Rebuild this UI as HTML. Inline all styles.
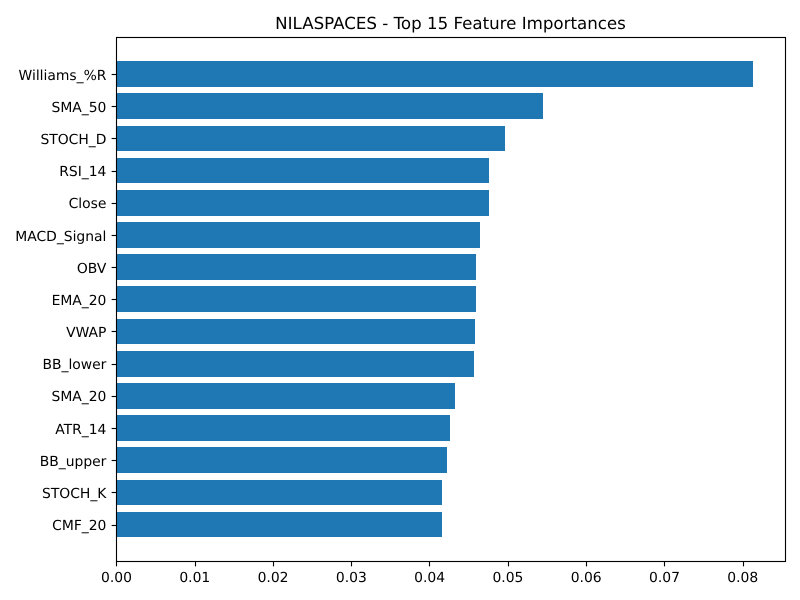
<!DOCTYPE html>
<html lang="en">
<head>
<meta charset="utf-8">
<title>NILASPACES - Top 15 Feature Importances</title>
<style>
html,body{margin:0;padding:0;background:#fff;width:800px;height:600px;overflow:hidden}
svg{display:block}
text{font-family:"DejaVu Sans",sans-serif;fill:#000;text-rendering:geometricPrecision}
</style>
</head>
<body>
<svg id="chart" xmlns="http://www.w3.org/2000/svg" width="800" height="600" viewBox="0 0 800 600">
<rect x="0" y="0" width="800" height="600" fill="#fff"/>
<text x="450.5" y="29" text-anchor="middle" font-size="16.67">NILASPACES - Top 15 Feature Importances</text>
<g id="bars"></g>
<g id="yaxis"></g>
<g id="xaxis"></g>
<rect x="116.5" y="37.5" width="669" height="524" fill="none" stroke="#000" stroke-width="1.11"/>
</svg>
<script>
const features = ["Williams_%R","SMA_50","STOCH_D","RSI_14","Close","MACD_Signal","OBV","EMA_20","VWAP","BB_lower","SMA_20","ATR_14","BB_upper","STOCH_K","CMF_20"];
const importances = [0.0813,0.0545,0.0496,0.0476,0.0476,0.0464,0.0459,0.0459,0.0458,0.0457,0.0432,0.0426,0.0422,0.0416,0.0416];
const xTicks = [0,0.01,0.02,0.03,0.04,0.05,0.06,0.07,0.08];
const xTickLabels = ["0.00","0.01","0.02","0.03","0.04","0.05","0.06","0.07","0.08"];
const xDomainMax = 0.08546;

const NS = 'http://www.w3.org/2000/svg';
const plotLeft = 116.5, plotRight = 785.5, plotTop = 37.315, plotBottom = 561.315;
const n = features.length;
const yUnit = (plotBottom - plotTop) / ((n - 1 + 0.8) * 1.1);
const firstCenter = plotTop + (0.4 + (n - 1 + 0.8) * 0.05) * yUnit;
function xScale(v) { return plotLeft + v / xDomainMax * (plotRight - plotLeft); }
function yScale(i) { return firstCenter + i * yUnit; }
function make(tag, attrs, parent) {
  const el = document.createElementNS(NS, tag);
  for (const k in attrs) el.setAttribute(k, attrs[k]);
  parent.appendChild(el);
  return el;
}
const barsG = document.getElementById('bars');
const yG = document.getElementById('yaxis');
const xG = document.getElementById('xaxis');

features.forEach(function (name, i) {
  const top = Math.round(yScale(i) - 0.4 * yUnit);
  const bottom = Math.round(yScale(i) + 0.4 * yUnit);
  const bar = make('rect', {x: plotLeft, y: top, width: Math.round(xScale(importances[i])) - plotLeft, height: bottom - top, fill: '#1f77b4', 'shape-rendering': 'crispEdges'}, barsG);
  
  

  const tickPixel = Math.floor(yScale(i) + 0.45);
  const tick = make('line', {x1: plotLeft - 4.86, x2: plotLeft, y1: tickPixel + 0.5, y2: tickPixel + 0.5, stroke: '#000', 'stroke-width': 1.11}, yG);
  
  

  const label = make('text', {x: 106.4, y: Math.round(yScale(i) + 5.6), 'text-anchor': 'end', 'font-size': 13.89}, yG);
  
  
  label.textContent = name;
});

xTicks.forEach(function (v, i) {
  const tx = Math.floor(xScale(v) + 0.3) + 0.5;
  const tick = make('line', {x1: tx, x2: tx, y1: 561.5, y2: 561.5 + 4.86, stroke: '#000', 'stroke-width': 1.11}, xG);
  
  

  const label = make('text', {x: xScale(v), y: 582, 'text-anchor': 'middle', 'font-size': 13.89}, xG);
  
  
  label.textContent = xTickLabels[i];
});
</script>
</body>
</html>
